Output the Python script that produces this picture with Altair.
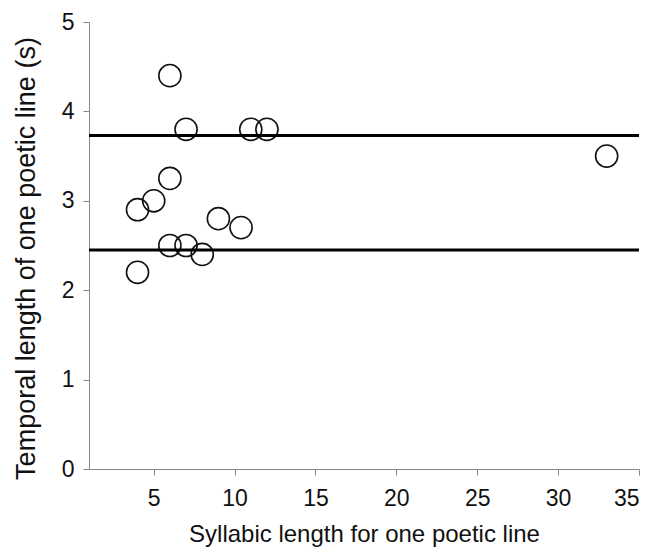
import altair as alt
import pandas as pd

syllables = [6, 7, 11, 12, 6, 5, 4, 9, 10.4, 6, 7, 8, 4, 33]
durations = [4.4, 3.8, 3.8, 3.8, 3.25, 3.0, 2.9, 2.8, 2.7, 2.5, 2.5, 2.4, 2.2, 3.5]
hlines = [3.73, 2.45]

pts = pd.DataFrame({"x": syllables, "y": durations})
lines = pd.DataFrame({"y": hlines})

FONT = "Liberation Sans"

xscale = alt.Scale(domain=[1, 35], nice=False, zero=False)
yscale = alt.Scale(domain=[0, 5], nice=False)

points = alt.Chart(pts).mark_point(
    shape="circle", size=490, filled=False, color="#111", strokeWidth=1.6, opacity=1
).encode(
    x=alt.X("x:Q", scale=xscale, axis=alt.Axis(
        title="Syllabic length for one poetic line", values=[5, 10, 15, 20, 25, 30, 35],
        format="d",
        grid=False, domainColor="#888", tickColor="#888", tickSize=6,
        labelFontSize=23, titleFontSize=24, labelFont=FONT, titleFont=FONT,
        labelColor="#111", titleColor="#111", titleFontWeight="normal",
        labelPadding=12, titlePadding=12)),
    y=alt.Y("y:Q", scale=yscale, axis=alt.Axis(
        title="Temporal length of one poetic line (s)", values=[0, 1, 2, 3, 4, 5],
        format="d",
        grid=False, domainColor="#888", tickColor="#888", tickSize=6,
        labelFontSize=23, titleFontSize=27, labelFont=FONT, titleFont=FONT,
        labelColor="#111", titleColor="#111", titleFontWeight="normal",
        labelPadding=9, titlePadding=21, titleY=236)),
)

rules = alt.Chart(lines).mark_rule(color="black", strokeWidth=3).encode(
    y=alt.Y("y:Q", scale=yscale)
)

chart = alt.layer(points, rules).properties(
    width=550, height=447,
    autosize=alt.AutoSizeParams(type="none"),
    padding={"left": 81, "top": 14, "right": 10, "bottom": 80},
).configure_view(stroke=None)

chart.save("out.html", embed_options={"renderer": "svg", "actions": False})
